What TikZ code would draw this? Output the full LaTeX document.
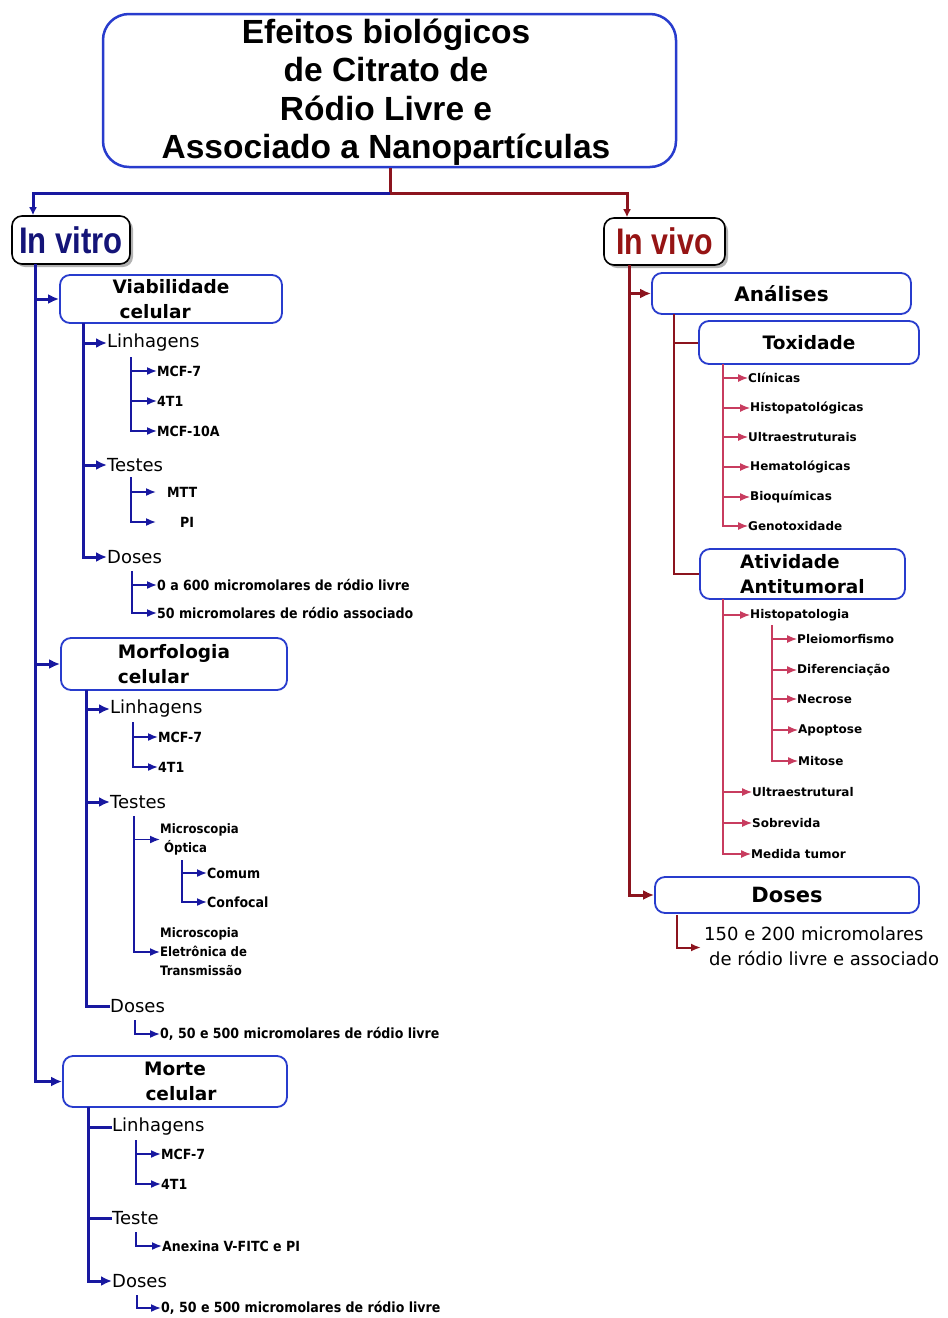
\documentclass[tikz,border=0pt]{standalone}
\usepackage{fontspec}
\setmainfont{DejaVu Sans}
\newfontfamily\titlef{Liberation Sans}
\newfontfamily\condf{DejaVu Sans Condensed}
\usetikzlibrary{arrows.meta,shadows}
\definecolor{bl}{RGB}{24,24,160}
\definecolor{bbox}{RGB}{40,60,205}
\definecolor{rd}{RGB}{140,20,30}
\definecolor{pk}{RGB}{200,60,95}
\definecolor{ivb}{RGB}{20,20,120}
\definecolor{ivr}{RGB}{150,20,20}
\begin{document}
\begin{tikzpicture}[x=1pt,y=-1pt,
 ttl/.style={draw=bbox, line width=2.5pt, rounded corners=26pt},
 hdr/.style={draw=black, line width=1.6pt, rounded corners=10pt, fill=white,
   drop shadow={shadow xshift=3pt, shadow yshift=-3pt, fill=black!50, opacity=.6}},
 cbox/.style={draw=bbox, line width=1.8pt, rounded corners=10pt, fill=white, inner sep=0pt,
   font=\bfseries\fontsize{18.5}{25}\selectfont},
 midtxt/.style={anchor=west, inner sep=0pt, font=\fontsize{18}{21}\selectfont},
 smltxt/.style={anchor=west, inner sep=0pt, font=\condf\bfseries\fontsize{14}{19}\selectfont},
 rsmltxt/.style={anchor=west, inner sep=0pt, font=\bfseries\fontsize{12}{14}\selectfont},
 arw/.style={-{Latex[length=11pt,width=10pt]}},
 arws/.style={-{Latex[length=10pt,width=8pt]}},
 arwh/.style={-{Latex[length=8pt,width=8pt]}},
 b3/.style={draw=bl, line width=3pt},
 b15/.style={draw=bl, line width=1.6pt},
 r3/.style={draw=rd, line width=3pt},
 r2/.style={draw=rd, line width=2pt},
 p1/.style={draw=pk, line width=1.2pt},
]
\useasboundingbox (0,0) rectangle (948,1318);
\fill[white] (0,0) rectangle (948,1318);

% ---------- title ----------
\node[ttl, minimum width=573pt, minimum height=153pt] (title) at (389.5,90.5) {};
\node[font=\titlef\bfseries\fontsize{33.5}{38.5}\selectfont, align=center, inner sep=0pt] (ttltxt) at (386,92)
 {Efeitos biológicos\\de Citrato de\\Ródio Livre e\\Associado a Nanopartículas};

% ---------- headers ----------
\node[hdr, minimum width=118pt, minimum height=48pt, inner sep=0pt] (invitro) at (71,240)
 {\titlef\bfseries\fontsize{37}{40}\selectfont\color{ivb}\scalebox{0.84}[1]{In vitro}};
\node[hdr, minimum width=121pt, minimum height=47pt, inner sep=0pt] (invivo) at (664.5,241.5)
 {\titlef\bfseries\fontsize{37}{40}\selectfont\color{ivr}\scalebox{0.82}[1]{In vivo}};

\coordinate (j) at (390,193);
\coordinate (ivx) at (33,0);
\coordinate (ivr) at (627,0);
\draw[r3] (title.south -| j) -- (j);
\draw[b3, arwh] (j) -| (invitro.north -| ivx);
\draw[r3, arwh] (j) -| (invivo.north -| ivr);

% ---------- In vitro boxes ----------
\node[cbox, minimum width=222pt, minimum height=48pt, align=left] (viab) at (171,299) {Viabilidade\\\hspace*{7pt}celular};
\node[cbox, minimum width=226pt, minimum height=52pt, align=left] (morf) at (174,664) {Morfologia\\celular};
\node[cbox, minimum width=224pt, minimum height=51pt, align=center] (morte) at (175,1081.5) {Morte\\\hspace*{12pt}celular};

\coordinate (T) at (35,264);
\draw[b3, arw] (T) |- (viab.west);
\draw[b3, arw] (T) |- (morf.west);
\draw[b3, arw] (T) |- (morte.west);

% ---- Viabilidade ----
\node[midtxt] (vlin) at (107,343) {Linhagens};
\node[midtxt] (vtes) at (107,465) {Testes};
\node[midtxt] (vdos) at (107,557) {Doses};
\coordinate (V) at (83,323);
\draw[b3, arw] (V) |- (vlin.west);
\draw[b3, arw] (V) |- (vtes.west);
\draw[b3, arw] (V) |- (vdos.west);

\node[smltxt] (vm1) at (157,371) {MCF-7};
\node[smltxt] (vm2) at (157,401) {4T1};
\node[smltxt] (vm3) at (157,431) {MCF-10A};
\coordinate (V1) at (131,357);
\draw[b15, arws] (V1) |- (vm1.west);
\draw[b15, arws] (V1) |- (vm2.west);
\draw[b15, arws] (V1) |- (vm3.west);

\node[smltxt] (vmtt) at (167,492) {MTT};
\node[smltxt] (vpi) at (180,522) {PI};
\coordinate (V2) at (131,477);
\draw[b15, arws] (V2) |- ([xshift=-11pt]vmtt.west);
\draw[b15, arws] (V2) |- ([xshift=-24pt]vpi.west);

\node[smltxt] (vd1) at (157,585) {0 a 600 micromolares de ródio livre};
\node[smltxt] (vd2) at (157,613) {50 micromolares de ródio associado};
\coordinate (V3) at (132,571);
\draw[b15, arws] (V3) |- (vd1.west);
\draw[b15, arws] (V3) |- (vd2.west);

% ---- Morfologia ----
\node[midtxt] (mlin) at (110,709) {Linhagens};
\node[midtxt] (mtes) at (110,802) {Testes};
\node[midtxt] (mdos) at (110,1006) {Doses};
\coordinate (M) at (86,690);
\draw[b3, arw] (M) |- (mlin.west);
\draw[b3, arw] (M) |- (mtes.west);
\draw[b3] (M) |- (mdos.west);

\node[smltxt] (mm1) at (158,737) {MCF-7};
\node[smltxt] (mm2) at (158,767) {4T1};
\coordinate (M1) at (133,722);
\draw[b15, arws] (M1) |- (mm1.west);
\draw[b15, arws] (M1) |- (mm2.west);

\node[smltxt, font=\condf\bfseries\fontsize{13}{19}\selectfont, align=left] (mopt) at (160,839.5) {Microscopia\\\hspace*{4pt}Óptica};
\node[smltxt, font=\condf\bfseries\fontsize{13}{19}\selectfont, align=left] (mmet) at (160,952) {Microscopia\\Eletrônica de\\Transmissão};
\coordinate (M2) at (134,816);
\draw[b15, arws] (M2) |- (mopt.west);
\draw[b15, arws] (M2) |- (mmet.west);

\node[smltxt] (mcom) at (207,873) {Comum};
\node[smltxt] (mcon) at (207,902) {Confocal};
\coordinate (M3) at (182,860);
\draw[b15, arws] (M3) |- (mcom.west);
\draw[b15, arws] (M3) |- (mcon.west);

\node[smltxt] (md1) at (160,1034) {0, 50 e 500 micromolares de ródio livre};
\coordinate (M4) at (135,1020);
\draw[b15, arws] (M4) |- (md1.west);

% ---- Morte ----
\node[midtxt] (dlin) at (112,1127) {Linhagens};
\node[midtxt] (dtes) at (112,1218) {Teste};
\node[midtxt] (ddos) at (112,1281) {Doses};
\coordinate (D) at (88,1107);
\draw[b3] (D) |- (dlin.west);
\draw[b3] (D) |- (dtes.west);
\draw[b3, arw] (D) |- (ddos.west);

\node[smltxt] (dm1) at (161,1154) {MCF-7};
\node[smltxt] (dm2) at (161,1184) {4T1};
\coordinate (D1) at (136,1140);
\draw[b15, arws] (D1) |- (dm1.west);
\draw[b15, arws] (D1) |- (dm2.west);

\node[smltxt] (danx) at (162,1246) {Anexina V-FITC e PI};
\coordinate (D2) at (136,1232);
\draw[b15, arws] (D2) |- (danx.west);

\node[smltxt] (dd1) at (161,1308) {0, 50 e 500 micromolares de ródio livre};
\coordinate (D3) at (137,1295);
\draw[b15, arws] (D3) |- (dd1.west);

% ---------- In vivo ----------
\node[cbox, font=\bfseries\fontsize{20}{25}\selectfont, minimum width=259pt, minimum height=41pt] (anal) at (781.5,293.5) {Análises};
\node[cbox, minimum width=220pt, minimum height=43pt] (toxi) at (809,342.5) {Toxidade};
\node[cbox, minimum width=205pt, minimum height=50pt, align=left] (ativ) at (802.5,574) {Atividade\\Antitumoral};
\node[cbox, font=\bfseries\fontsize{21}{25}\selectfont, minimum width=264pt, minimum height=36pt] (rdos) at (787,895) {Doses};

\coordinate (R) at (629,265);
\draw[r3, arw] (R) |- (anal.west);
\draw[r3, arw] (R) |- (rdos.west);

\coordinate (A) at (674,314);
\draw[r2] (A) |- (toxi.west);
\draw[r2] (A) |- (ativ.west);

\node[rsmltxt] (t1) at (748,378) {Clínicas};
\node[rsmltxt] (t2) at (750,408) {Histopatológicas};
\node[rsmltxt] (t3) at (748,437) {Ultraestruturais};
\node[rsmltxt] (t4) at (750,467) {Hematológicas};
\node[rsmltxt] (t5) at (750,497) {Bioquímicas};
\node[rsmltxt] (t6) at (748,526) {Genotoxidade};
\coordinate (TX) at (723,364);
\foreach \n in {t1,t2,t3,t4,t5,t6} \draw[p1, arws] (TX) |- (\n.west);

\node[rsmltxt] (a1) at (750,615) {Histopatologia};
\node[rsmltxt] (a2) at (752,792) {Ultraestrutural};
\node[rsmltxt] (a3) at (752,823) {Sobrevida};
\node[rsmltxt] (a4) at (751,854) {Medida tumor};
\coordinate (AT) at (723,599);
\foreach \n in {a1,a2,a3,a4} \draw[p1, arws] (AT) |- (\n.west);

\node[rsmltxt] (h1) at (797,639) {Pleiomorfismo};
\node[rsmltxt] (h2) at (797,670) {Diferenciação};
\node[rsmltxt] (h3) at (797,699) {Necrose};
\node[rsmltxt] (h4) at (798,730) {Apoptose};
\node[rsmltxt] (h5) at (798,761) {Mitose};
\coordinate (H) at (772,625);
\foreach \n in {h1,h2,h3,h4,h5} \draw[p1, arws] (H) |- (\n.west);

\node[anchor=west, inner sep=0pt, font=\fontsize{18}{25}\selectfont, align=left] (rdtxt) at (704,946.5)
 {150 e 200 micromolares\\\hspace*{5pt}de ródio livre e associado};
\coordinate (RD) at (677,915);
\draw[r2, arws] (RD) |- ([xshift=-3pt,yshift=-1pt]rdtxt.west);
\end{tikzpicture}
\end{document}
